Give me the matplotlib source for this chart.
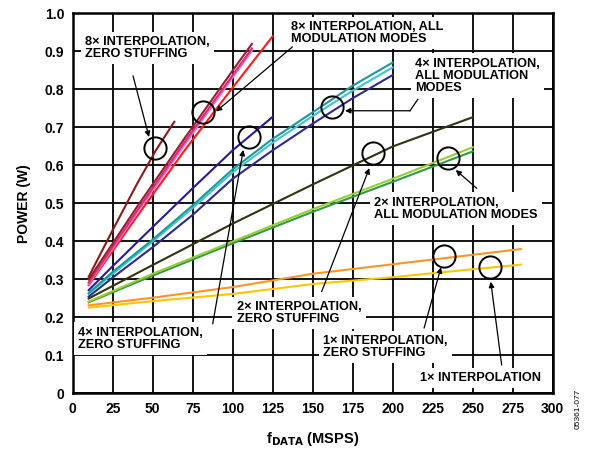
import matplotlib
matplotlib.use("Agg")
import matplotlib.pyplot as plt

plt.rcParams["font.family"] = ["Liberation Sans", "DejaVu Sans"]
plt.rcParams["font.weight"] = "bold"

# power (W) vs fDATA (MSPS)
x_8x_zs = [10, 25, 40, 52, 63.5]
y_8x_zs = [0.307, 0.43, 0.55, 0.64, 0.715]

x_8x = [10, 40, 70, 100, 112]
y_8x_a = [0.300, 0.490, 0.672, 0.850, 0.920]
y_8x_b = [0.292, 0.480, 0.662, 0.838, 0.908]
y_8x_c = [0.288, 0.474, 0.655, 0.832, 0.902]
x_8x_red = [10, 40, 70, 100, 125]
y_8x_red = [0.285, 0.465, 0.640, 0.805, 0.940]

x_4x = [10, 25, 50, 75, 100, 125, 150, 175, 200]
y_4x_teal = [0.264, 0.320, 0.405, 0.495, 0.590, 0.670, 0.740, 0.810, 0.871]
y_4x_cyan = [0.262, 0.315, 0.400, 0.488, 0.582, 0.660, 0.730, 0.797, 0.858]
y_4x_navy = [0.255, 0.305, 0.385, 0.470, 0.565, 0.640, 0.710, 0.777, 0.838]

x_4x_zs = [10, 25, 50, 75, 100, 125]
y_4x_zs = [0.272, 0.335, 0.438, 0.540, 0.640, 0.728]

x_2x = [10, 50, 100, 150, 200, 250]
y_2x_zs = [0.250, 0.338, 0.447, 0.550, 0.650, 0.727]
y_2x_light = [0.242, 0.315, 0.400, 0.485, 0.565, 0.648]
y_2x_dark = [0.240, 0.310, 0.395, 0.478, 0.557, 0.637]

x_1x = [10, 50, 100, 150, 200, 250, 280]
y_1x_zs = [0.232, 0.252, 0.280, 0.315, 0.340, 0.365, 0.380]
y_1x = [0.226, 0.243, 0.262, 0.288, 0.306, 0.327, 0.339]

fig = plt.figure(figsize=(5.9, 4.57), dpi=100)
ax = fig.add_axes([0.1232, 0.139, 0.8136, 0.8315])

lw = 1.5
ax.plot(x_1x, y_1x, color="#FFC600", lw=lw)
ax.plot(x_1x, y_1x_zs, color="#FF9420", lw=lw)
ax.plot(x_2x, y_2x_dark, color="#2E9B48", lw=lw)
ax.plot(x_2x, y_2x_light, color="#9ACD32", lw=lw)
ax.plot(x_2x, y_2x_zs, color="#333311", lw=lw)
ax.plot(x_4x, y_4x_navy, color="#2B2B8F", lw=lw)
ax.plot(x_4x, y_4x_cyan, color="#40C4D0", lw=lw)
ax.plot(x_4x, y_4x_teal, color="#1A9A9A", lw=lw)
ax.plot(x_4x_zs, y_4x_zs, color="#2A1A9A", lw=lw)
ax.plot(x_8x_red, y_8x_red, color="#FF1A1A", lw=lw)
ax.plot(x_8x, y_8x_c, color="#FF66CC", lw=lw)
ax.plot(x_8x, y_8x_b, color="#CC3377", lw=lw)
ax.plot(x_8x, y_8x_a, color="#9B1B30", lw=lw)
ax.plot(x_8x_zs, y_8x_zs, color="#8B1A1A", lw=lw)

ax.set_xlim(0, 300)
ax.set_ylim(0, 1.0)
ax.set_xticks(range(0, 301, 25))
ax.set_yticks([i / 10 for i in range(11)])
ax.set_yticklabels(["0"] + [f"{i / 10:.1f}" for i in range(1, 11)])
ax.grid(True, color="black", lw=1.3)
ax.set_axisbelow(True)
ax.tick_params(length=0, labelsize=10, pad=6)
for s in ax.spines.values():
    s.set_linewidth(1.8)

ax.set_ylabel("POWER (W)", fontsize=10, fontweight="bold", labelpad=10)
ax.set_xlabel(r"f$_{\mathbf{DATA}}$ (MSPS)", fontsize=10.5, fontweight="bold", labelpad=10)

# circles marking the curve groups
circles = [(51.5, 0.646), (81.6, 0.741), (162.3, 0.755), (234.4, 0.619),
           (187.9, 0.632), (110.4, 0.676), (232.1, 0.362), (260.8, 0.334)]
for cx, cy in circles:
    ax.plot(cx, cy, "o", ms=16, mfc="none", mec="black", mew=1.4, zorder=5)

box = dict(facecolor="white", edgecolor="none", pad=3)
fs = 9.2
arrow = dict(arrowstyle="-|>", color="black", lw=0.9, mutation_scale=8,
             shrinkA=0, shrinkB=0)

notes = [
    ("8× INTERPOLATION,\nZERO STUFFING", 7.75, 0.94, (37.7, 0.836), (47.7, 0.675)),
    ("8× INTERPOLATION, ALL\nMODULATION MODES", 136.4, 0.98, (137.3, 0.912), (89.6, 0.742)),
    ("4× INTERPOLATION,\nALL MODULATION\nMODES", 213.9, 0.884, None, None),
    ("2× INTERPOLATION,\nALL MODULATION MODES", 188.5, 0.518, (252.5, 0.54), (239.4, 0.588)),
    ("2× INTERPOLATION,\nZERO STUFFING", 102.5, 0.243, (155.6, 0.268), (185.4, 0.593)),
    ("4× INTERPOLATION,\nZERO STUFFING", 3.5, 0.176, (87.5, 0.183), (106.6, 0.641)),
    ("1× INTERPOLATION,\nZERO STUFFING", 156.6, 0.154, (219.6, 0.172), (230.2, 0.332)),
    ("1× INTERPOLATION", 217.1, 0.057, (268.1, 0.075), (261.3, 0.294)),
]
for txt, tx, ty, tail, head in notes:
    ax.text(tx, ty, txt, fontsize=fs, fontweight="bold", ha="left", va="top",
            linespacing=1.0, bbox=box, zorder=6)
    if tail is not None:
        ax.annotate("", xy=head, xytext=tail, arrowprops=arrow, zorder=7)

# bent leader for the 4x all-modes note
ax.plot([215.7, 210.8], [0.774, 0.744], color="black", lw=0.9, zorder=7)
ax.annotate("", xy=(170.2, 0.744), xytext=(210.8, 0.744), arrowprops=arrow, zorder=7)

fig.text(0.98, 0.105, "05361-077", rotation=90, fontsize=6, fontweight="normal",
         ha="center", va="center")

fig.savefig("out.png", dpi=100)
